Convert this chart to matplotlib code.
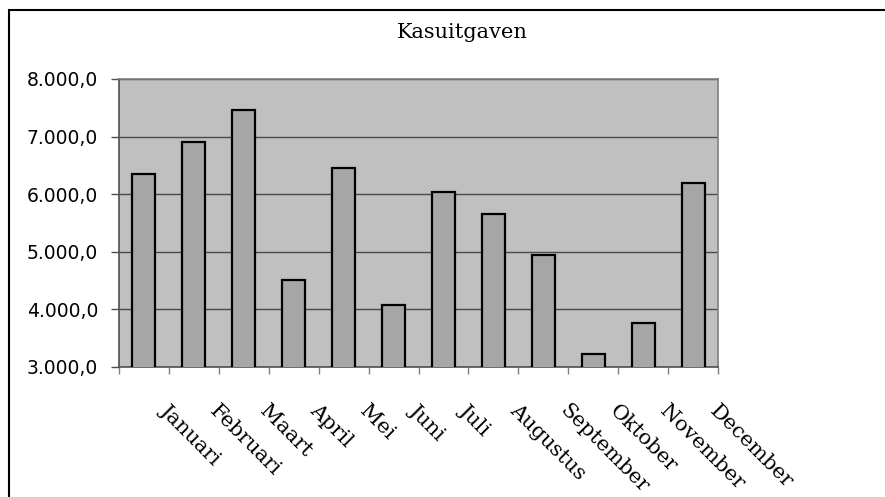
import matplotlib
matplotlib.use("Agg")
import numpy as np
import matplotlib.pyplot as plt
from matplotlib.patches import Rectangle
from matplotlib.ticker import FuncFormatter
from matplotlib.transforms import ScaledTranslation


# ─── Data ─────────────────────────────────────────────────────────────────────

maanden = ["Januari", "Februari", "Maart", "April", "Mei", "Juni", "Juli",
           "Augustus", "September", "Oktober", "November", "December"]
uitgaven = [6350, 6900, 7460, 4510, 6450, 4080, 6030, 5660, 4940, 3220,
            3770, 6190]
y_ticks = [3000, 4000, 5000, 6000, 7000, 8000]
titel = "Kasuitgaven"

COLORS = {
    "plot_bg": "#C0C0C0",
    "bar":     "#A6A6A6",
    "grid":    "#4A4A4A",
    "axis":    "#505050",
    "frame":   "#808080",
}


def nl_format(v, pos=None):
    s = f"{v:,.1f}"
    return s.replace(",", "X").replace(".", ",").replace("X", ".")


fig = plt.figure(figsize=(8.85, 4.97), dpi=100, facecolor="white")
ax = fig.add_axes([119 / 885, 130 / 497, 599 / 885, 288 / 497])
ax.set_facecolor(COLORS["plot_bg"])

x = np.arange(len(maanden))
ax.bar(x, uitgaven, width=0.46, color=COLORS["bar"], edgecolor="black",
       linewidth=1.6, zorder=3)

ax.set_xlim(-0.5, len(maanden) - 0.5)
ax.set_ylim(y_ticks[0], y_ticks[-1])
ax.set_yticks(y_ticks)
ax.yaxis.set_major_formatter(FuncFormatter(nl_format))
ax.grid(axis="y", color=COLORS["grid"], linewidth=1.0, zorder=1)
ax.set_axisbelow(True)

# ticks op de categoriegrenzen, labels apart getekend
ax.set_xticks(np.arange(len(maanden) + 1) - 0.5)
ax.set_xticklabels([])
ax.tick_params(axis="x", direction="out", length=5, width=1,
               color=COLORS["frame"])
ax.tick_params(axis="y", direction="out", length=6, width=1,
               color=COLORS["axis"], pad=9, labelsize=13.5)
for lbl in ax.get_yticklabels():
    lbl.set_fontfamily("DejaVu Sans")

ax.spines["left"].set_color(COLORS["axis"])
ax.spines["bottom"].set_color(COLORS["axis"])
ax.spines["top"].set_color(COLORS["frame"])
ax.spines["right"].set_color(COLORS["frame"])
for s in ax.spines.values():
    s.set_linewidth(1.2)

trans = ax.get_xaxis_transform() + ScaledTranslation(0.26, -0.34,
                                                     fig.dpi_scale_trans)
for i, m in enumerate(maanden):
    ax.text(i, 0, m, transform=trans, rotation=-45, rotation_mode="anchor",
            ha="left", va="top", fontsize=15, family="DejaVu Serif")

fig.text(462 / 885, 1 - 33 / 497, titel, ha="center", va="center",
         fontsize=15, family="DejaVu Serif")

# buitenrand van de grafiek
fig.patches.append(Rectangle((9 / 885, -0.05), 1.0, 1 - 10 / 497 + 0.05,
                             transform=fig.transFigure, fill=False,
                             edgecolor="black", linewidth=1.5))

fig.savefig("out.png", dpi=100, facecolor="white")
